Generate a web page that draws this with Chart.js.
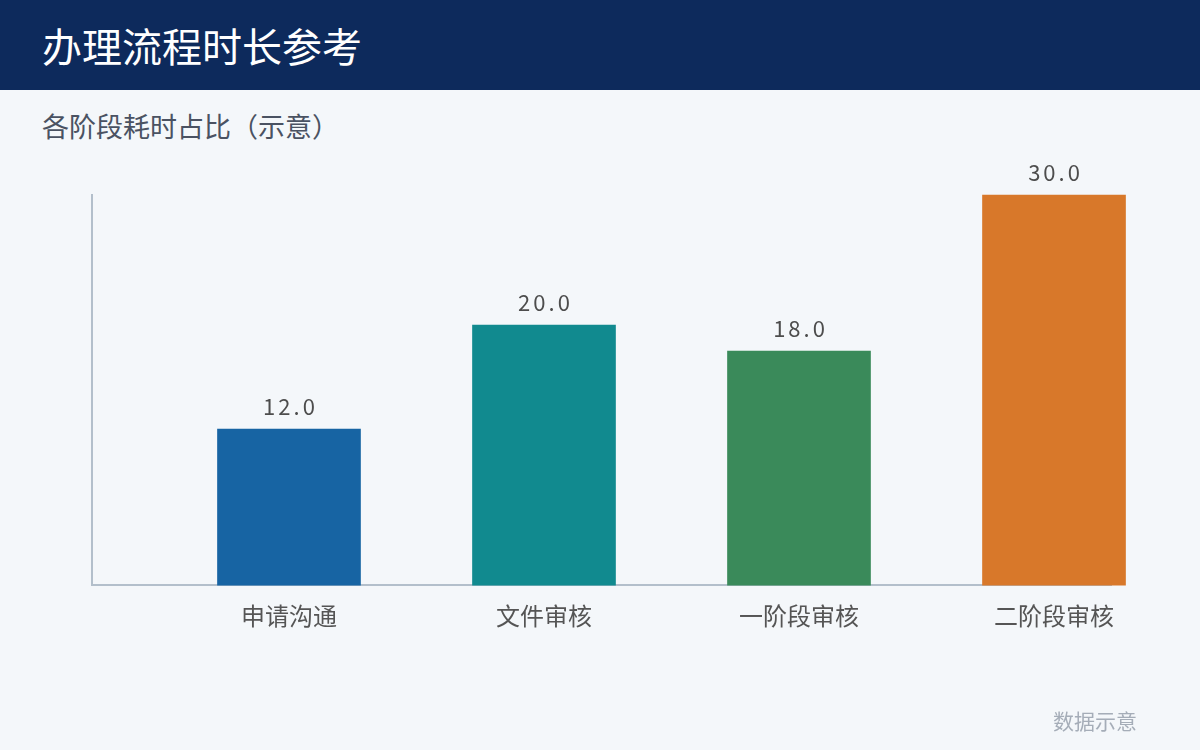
<!DOCTYPE html>
<html>
<head>
<meta charset="utf-8">
<script src="https://cdn.jsdelivr.net/npm/chart.js@4/dist/chart.umd.min.js"></script>
<style>
  html, body { margin: 0; padding: 0; }
  body { width: 1200px; height: 750px; background: #f4f7fa; position: relative; overflow: hidden;
         font-family: "Noto Sans CJK SC", "Noto Sans", sans-serif; }
  .header { position: absolute; left: 0; top: 0; width: 1200px; height: 90px; background: #0d2a5c; }
  .header h1 { margin: 0; position: absolute; left: 42px; top: 19px; font-size: 40px; line-height: 52px;
               font-weight: 400; color: #ffffff; }
  .sub { position: absolute; left: 42px; top: 107px; font-size: 27px; line-height: 38px; color: #4a5262; }
  .foot { position: absolute; right: 63px; top: 706px; font-size: 21px; line-height: 28px; color: #a5adb8; }
  #wrap { position: absolute; left: 0; top: 0; width: 1200px; height: 750px; }
</style>
</head>
<body>
<div class="header"><h1>办理流程时长参考</h1></div>
<div class="sub">各阶段耗时占比（示意）</div>
<div id="wrap"><canvas id="chart"></canvas></div>
<div class="foot">数据示意</div>
<script>
// stages and durations
const stages = ["申请沟通", "文件审核", "一阶段审核", "二阶段审核"];
const hours = [12, 20, 18, 30];
const barColors = ["#1764a3", "#118a8f", "#3a8a5a", "#d8782a"];

// value labels above bars
const valueLabels = {
  id: 'valueLabels',
  afterDatasetsDraw(chart) {
    const ctx = chart.ctx;
    const meta = chart.getDatasetMeta(0);
    ctx.save();
    ctx.font = '22px "Noto Sans CJK SC", sans-serif';
    ctx.letterSpacing = '3px';
    ctx.fillStyle = '#4d4d4d';
    ctx.textAlign = 'center';
    ctx.textBaseline = 'middle';
    meta.data.forEach(function(bar, i) {
      ctx.fillText(hours[i].toFixed(1), bar.x + 1.5, bar.y - 22);
    });
    ctx.restore();
  }
};

new Chart(document.getElementById("chart"), {
  type: 'bar',
  data: {
    datasets: [{
      data: hours.map(function(v, i) { return { x: i, y: v }; }),
      backgroundColor: barColors,
      barThickness: 143,
      clip: false
    }]
  },
  options: {
    responsive: true,
    maintainAspectRatio: false,
    animation: false,
    layout: { padding: { left: 84, right: 89, top: 195, bottom: 112 } },
    plugins: { legend: { display: false }, tooltip: { enabled: false } },
    scales: {
      x: {
        type: 'linear',
        offset: false,
        min: -0.7725,
        max: 3.2235,
        afterBuildTicks: function(scale) {
          scale.ticks = stages.map(function(s, i) { return { value: i }; });
        },
        grid: { display: false },
        border: { display: true, color: '#b3bfcb', width: 2 },
        ticks: {
          padding: 8,
          color: '#555555',
          font: { size: 24, family: '"Noto Sans CJK SC", sans-serif' },
          callback: function(value) { return stages[value]; }
        }
      },
      y: {
        min: 0,
        max: 30,
        grid: { display: false },
        border: { display: true, color: '#b3bfcb', width: 2 },
        ticks: { display: false }
      }
    }
  },
  plugins: [valueLabels]
});
</script>
</body>
</html>
